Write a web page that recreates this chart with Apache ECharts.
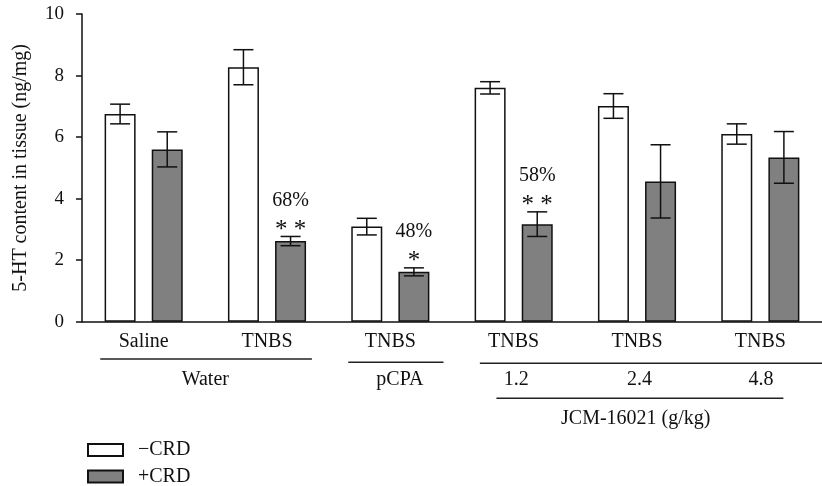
<!DOCTYPE html>
<html><head><meta charset="utf-8">
<script src="https://cdn.jsdelivr.net/npm/echarts@6/dist/echarts.min.js"></script>
<style>html,body{margin:0;padding:0;background:#fff}#c{width:822px;height:486px}</style>
</head><body><div id="c"></div>
<script>
const categories = ['Saline', 'TNBS', 'TNBS', 'TNBS', 'TNBS', 'TNBS'];
const minusCRD = [6.75, 8.27, 3.09, 7.60, 7.01, 6.10];
const minusErr = [0.32, 0.57, 0.27, 0.20, 0.40, 0.33];
const plusCRD = [5.60, 2.62, 1.62, 3.17, 4.56, 5.34];
const plusErr = [0.57, 0.15, 0.13, 0.40, 1.19, 0.84];
const pctLabels = ['', '68%', '48%', '58%', '', ''];
const starLabels = ['', '* *', '*', '* *', '', ''];
const yTicks = [0, 2, 4, 6, 8, 10];
const groupTexts = ['Water', 'pCPA', '1.2', '2.4', '4.8'];
const groupTextPos = [0.5, 2.077, 3.02, 4.02, 5.005];
const titleText = 'JCM-16021 (g/kg)';
const seriesNames = ['−CRD', '+CRD'];

const FONT = '"Liberation Serif", "DejaVu Serif", serif';
const TXT = '#111';
const BAR_W = 31, GAP = 0.52;
const chart = echarts.init(document.getElementById('c'), null, {renderer: 'canvas'});

function errSeries(name, vals, errs, side, withLabels) {
  return {
    type: 'custom', name: name + '_err', silent: true, z: 5,
    data: vals.map((v, i) => [i, v, errs[i]]),
    encode: {x: 0, y: 1},
    renderItem: function (params, api) {
      const i = api.value(0), v = api.value(1), e = api.value(2);
      const off = side * BAR_W * (1 + GAP) / 2;
      const x = api.coord([i, v])[0] + off;
      const yt = api.coord([i, v + e])[1];
      const yb = api.coord([i, v - e])[1];
      const st = {stroke: '#111', lineWidth: 1.5};
      const ch = [
        {type: 'line', shape: {x1: x, y1: yt, x2: x, y2: yb}, style: st},
        {type: 'line', shape: {x1: x - 10, y1: yt, x2: x + 10, y2: yt}, style: st},
        {type: 'line', shape: {x1: x - 10, y1: yb, x2: x + 10, y2: yb}, style: st}
      ];
      if (withLabels && pctLabels[i]) {
        ch.push({type: 'text', style: {text: starLabels[i], x: x, y: yt - 6, align: 'center', verticalAlign: 'middle', font: '25px ' + FONT, fill: TXT}});
        ch.push({type: 'text', style: {text: pctLabels[i], x: x, y: yt - 36, align: 'center', verticalAlign: 'middle', font: '20px ' + FONT, fill: TXT}});
      }
      return {type: 'group', children: ch};
    }
  };
}

const legendBase = {
  orient: 'vertical', left: 82, itemWidth: 35, itemHeight: 12,
  textStyle: {fontSize: 20, color: TXT, fontFamily: FONT, padding: [0, 0, 0, 10]},
  icon: 'rect'
};

chart.setOption({
  animation: false,
  textStyle: {fontFamily: FONT},
  grid: {left: 82, top: 14, right: -6, bottom: 164.3, containLabel: false},
  legend: [
    Object.assign({}, legendBase, {data: [seriesNames[0]], top: 435}),
    Object.assign({}, legendBase, {data: [seriesNames[1]], top: 461.5})
  ],
  xAxis: {
    type: 'category', data: categories,
    axisLine: {lineStyle: {color: '#111', width: 1.5}},
    axisTick: {show: false},
    axisLabel: {fontSize: 20, color: TXT, margin: 10, fontFamily: FONT}
  },
  yAxis: {
    type: 'value', min: 0, max: 10, interval: 2,
    name: '5-HT content in tissue (ng/mg)', nameLocation: 'middle', nameGap: 51,
    nameTextStyle: {fontSize: 20, color: TXT, fontFamily: FONT},
    axisLine: {show: true, lineStyle: {color: '#111', width: 1.5}},
    axisTick: {show: true, length: 6, inside: false, lineStyle: {color: '#111', width: 1.5}},
    splitLine: {show: false},
    axisLabel: {fontSize: 19, color: TXT, margin: 18, fontFamily: FONT,
      formatter: v => yTicks.includes(v) ? String(v) : ''}
  },
  series: [
    {type: 'bar', name: seriesNames[0], data: minusCRD, barWidth: BAR_W, barGap: (GAP * 100) + '%',
      itemStyle: {color: '#ffffff', borderColor: '#111', borderWidth: 1.5}},
    {type: 'bar', name: seriesNames[1], data: plusCRD, barWidth: BAR_W,
      itemStyle: {color: '#808080', borderColor: '#111', borderWidth: 1.5}},
    errSeries('minus', minusCRD, minusErr, -1, false),
    errSeries('plus', plusCRD, plusErr, 1, true)
  ]
});

// Bracket annotations under the category axis, positioned from the axis scale
const c0 = chart.convertToPixel({xAxisIndex: 0}, 0);
const c1 = chart.convertToPixel({xAxisIndex: 0}, 1);
const pitch = c1 - c0;
const px = u => c0 + u * pitch;
const y0 = chart.convertToPixel({yAxisIndex: 0}, 0);
const lineSt = {stroke: '#222', lineWidth: 1.5};
const txt = (t, u, dy) => ({type: 'text', style: {text: t, x: px(u), y: y0 + dy, align: 'center', verticalAlign: 'middle', font: '20px ' + FONT, fill: TXT}});
const ln = (u1, u2, dy) => ({type: 'line', shape: {x1: px(u1), y1: y0 + dy, x2: px(u2), y2: y0 + dy}, style: lineSt});
const g = [
  ln(-0.352, 1.364, 37.3),
  ln(1.659, 2.431, 40.6),
  ln(2.726, 5.7, 41.6),
  ln(2.86, 5.187, 76.6),
  txt(titleText, 3.99, 96.6)
];
groupTexts.forEach((t, k) => g.push(txt(t, groupTextPos[k], 58.3)));
chart.setOption({graphic: g});
</script>
</body></html>
